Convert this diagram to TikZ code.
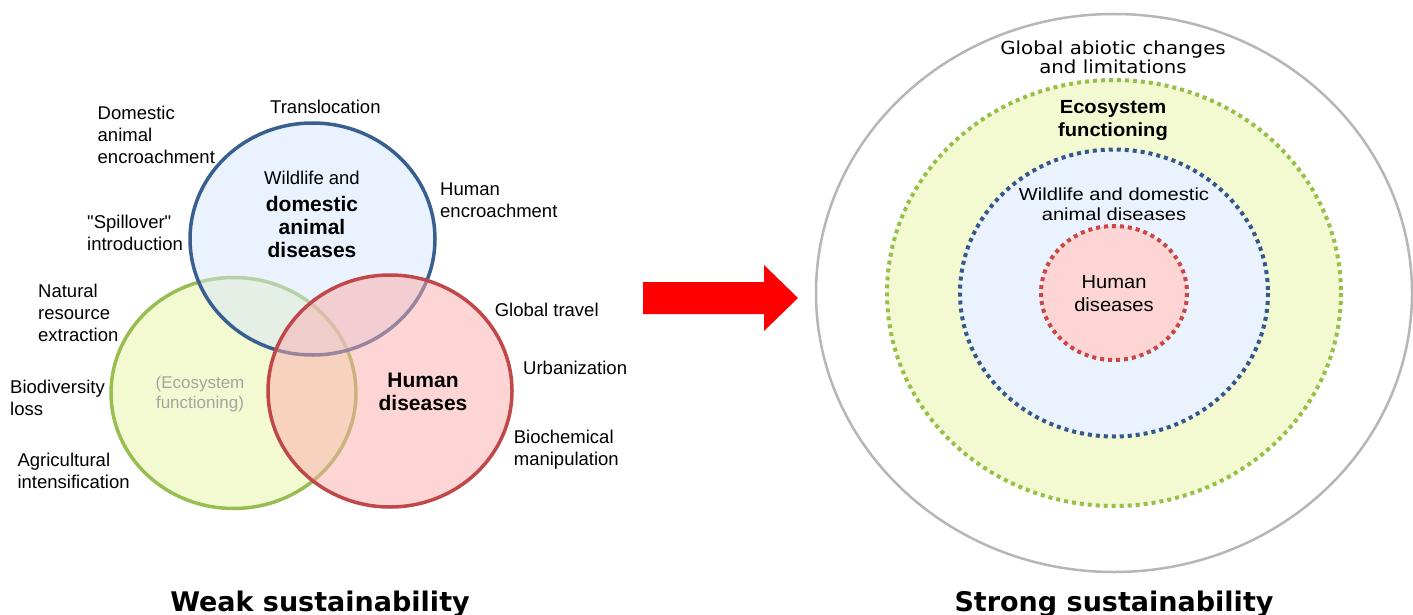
\documentclass[tikz,border=0pt]{standalone}
\usepackage{fontspec}
\setmainfont{Liberation Sans}
\newfontfamily\quotefont{Liberation Sans}
\newfontfamily\titlefont{DejaVu Sans}
\newfontfamily\abioticfont[FakeStretch=1.1]{DejaVu Sans}
\newfontfamily\widefont[FakeStretch=1.15]{Liberation Sans}
\newfontfamily\slightfont[FakeStretch=1.06]{Liberation Sans}
\usepackage{tikz}
\usetikzlibrary{calc}

\definecolor{wildline}{RGB}{57,95,145}
\definecolor{ecoline}{RGB}{151,190,80}
\definecolor{humanline}{RGB}{192,72,74}
\definecolor{wildbase}{RGB}{213,229,251}
\definecolor{ecobase}{RGB}{231,245,165}
\definecolor{humanbase}{RGB}{251,171,171}
\definecolor{wildfill}{RGB}{234,242,253}
\definecolor{ecofill}{RGB}{243,250,210}
\definecolor{humanfill}{RGB}{253,213,213}
\definecolor{ringblue}{RGB}{52,88,140}
\definecolor{ringgreen}{RGB}{150,192,70}
\definecolor{ringred}{RGB}{200,72,72}
\definecolor{outergray}{RGB}{182,182,182}
\definecolor{mutedgray}{RGB}{165,165,160}

\begin{document}
\begin{tikzpicture}[x=1pt,y=-1pt]
\tikzstyle{lbl} = [font=\fontsize{18.5}{22}\selectfont, align=left, anchor=west, inner sep=0pt]
\tikzstyle{big} = [font=\bfseries\fontsize{21}{23}\selectfont, align=center, inner sep=0pt]
\tikzstyle{venn} = [line width=3.5pt, fill opacity=.5]
\tikzstyle{ring} = [line width=4pt, dash pattern=on 4pt off 4pt]
\tikzstyle{title} = [font=\titlefont\bfseries\fontsize{27}{30}\selectfont, anchor=base, inner sep=0pt]
\useasboundingbox (0,0) rectangle (1413,615);
% weak sustainability
\coordinate (E) at (233.5,393);
\coordinate (W) at (312.5,239);
\coordinate (H) at (390,391);
\draw[venn, draw=ecoline, fill=ecobase] (E) ellipse (122.5 and 115.5);
\draw[venn, draw=wildline, fill=wildbase] (W) ellipse (122.5 and 116);
\draw[venn, draw=humanline, fill=humanbase] (H) ellipse (122 and 116);
\node[lbl] (domestic) at (97.5,135) {Domestic\\animal\\encroachment};
\node[lbl] (transloc) at (270,107) {Translocation};
\node[lbl] (humanenc) at (440,200) {Human\\encroachment};
\node[lbl, font=\quotefont\fontsize{18.5}{22}\selectfont] (spill) at (87,233) {"Spillover"\\introduction};
\node[lbl] (natural) at (38,313) {Natural\\resource\\extraction};
\node[lbl] (travel) at (494.6,310) {Global travel};
\node[lbl] (urban) at (523,368) {Urbanization};
\node[lbl] (biodiv) at (10,398) {Biodiversity\\loss};
\node[lbl] (biochem) at (513.7,450) {Biochemical\\manipulation};
\node[lbl] (agri) at (17.4,471) {Agricultural\\intensification};
\node[font=\fontsize{17}{20.5}\selectfont, text=mutedgray, align=center, inner sep=0pt] (ecogray) at (200,394) {(Ecosystem\\functioning)};
\node[font=\fontsize{18.5}{22}\selectfont, inner sep=0pt] (wildtop) at (312,178) {Wildlife and};
\node[big] (wildbold) at (312,227) {domestic\\animal\\diseases};
\node[big] (humanbold) at (423,391.5) {Human\\diseases};
\node[title] (weak) at (320,611) {Weak sustainability};
% arrow
\fill[red] (643,282) -- (764,282) -- (764,265) -- (798,298) -- (764,331) -- (764,314) -- (643,314) -- cycle;
% strong sustainability
\coordinate (S) at (1114,293);
\draw[draw=outergray, line width=2.5pt] (S) ellipse (298 and 279);
\draw[ring, draw=ringgreen, fill=ecofill] (S) ellipse (227 and 213);
\draw[ring, draw=ringblue, fill=wildfill] (S) ellipse (154 and 143.5);
\draw[ring, draw=ringred, fill=humanfill] (S) ellipse (73 and 67);
\node[font=\abioticfont\fontsize{18}{19}\selectfont, align=center, inner sep=0pt] (abiotic) at (1113,57.5) {Global abiotic changes\\and limitations};
\node[font=\slightfont\bfseries\fontsize{19}{23}\selectfont, align=center, inner sep=0pt] (eco) at (1113,120.5) {Ecosystem\\functioning};
\node[font=\widefont\fontsize{17.5}{20}\selectfont, align=center, inner sep=0pt] (wildring) at (1114,204) {Wildlife and domestic\\animal diseases};
\node[font=\slightfont\fontsize{19}{23}\selectfont, align=center, inner sep=0pt] (humanring) at (1114,293.5) {Human\\diseases};
\node[title] (strong) at (1114,611) {Strong sustainability};
\end{tikzpicture}
\end{document}
